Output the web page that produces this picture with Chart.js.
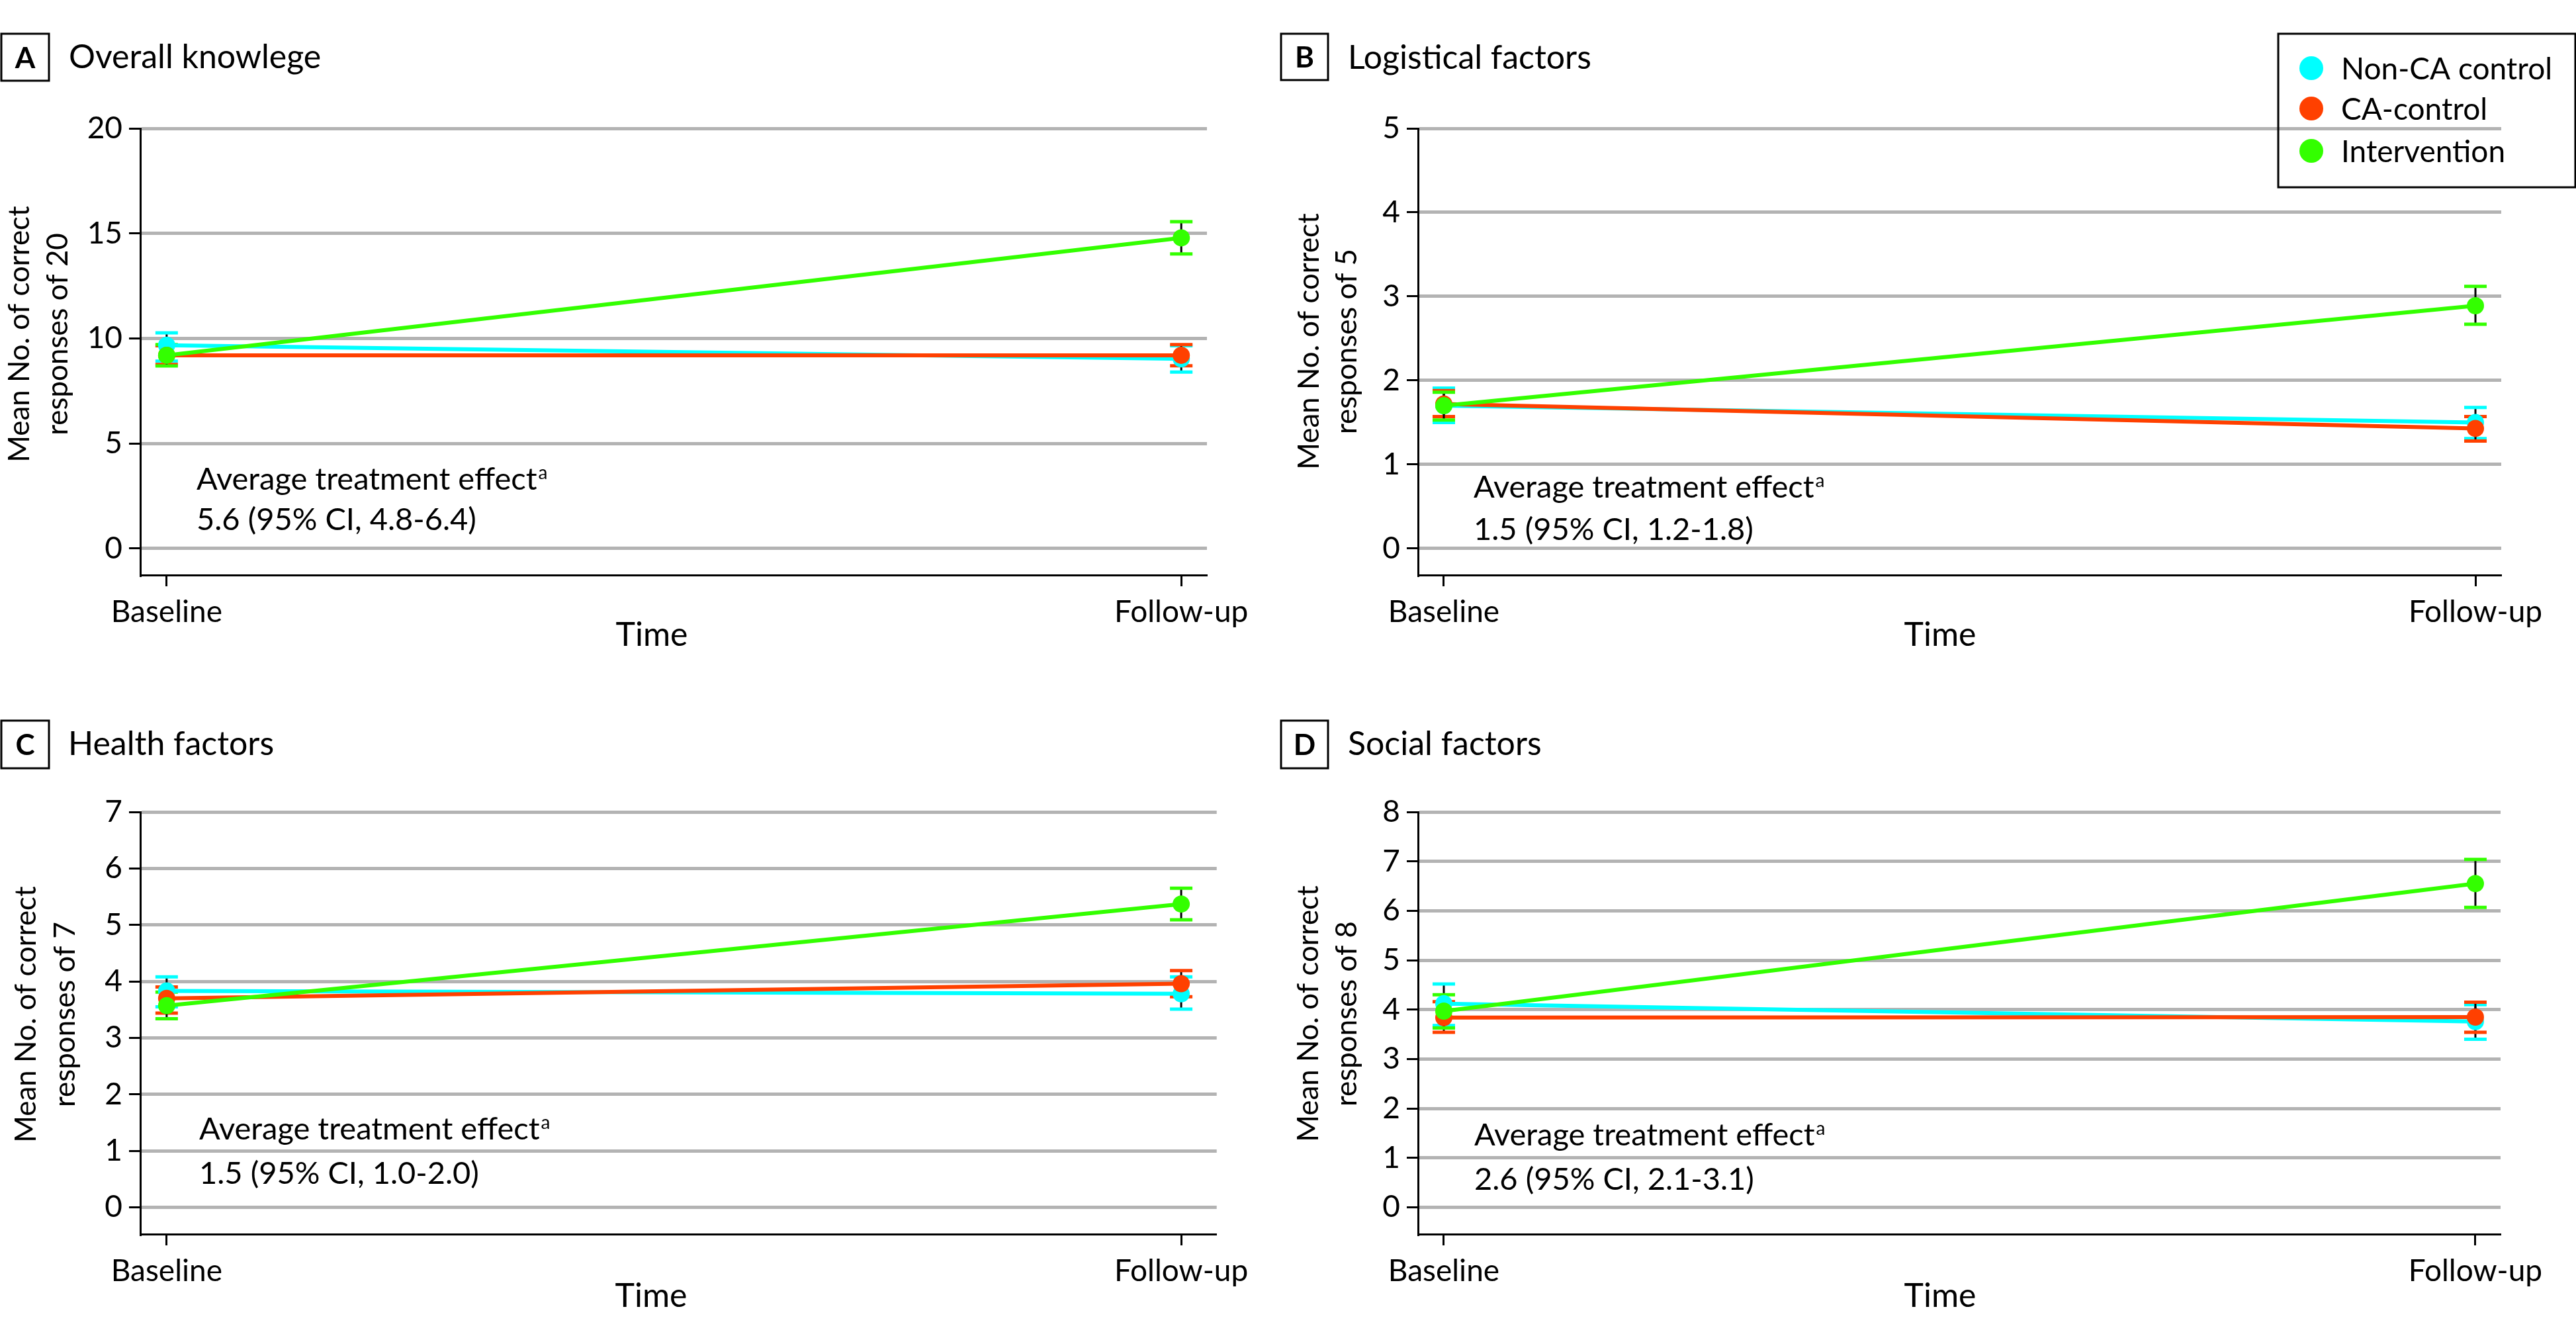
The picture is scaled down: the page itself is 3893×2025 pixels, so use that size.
<!DOCTYPE html>
<html>
<head>
<meta charset="utf-8">
<script src="https://cdn.jsdelivr.net/npm/chart.js@4.4.0/dist/chart.umd.min.js"></script>
<style>
  html, body { margin: 0; padding: 0; background: #fff; }
  #wrap { position: relative; width: 3893px; height: 2025px; background: #fff; overflow: hidden; }
  canvas { position: absolute; }
</style>
</head>
<body>
<div id="wrap">
  <canvas id="chartA" width="1900" height="1010" style="left:0;top:0"></canvas>
  <canvas id="chartB" width="1993" height="1010" style="left:1900px;top:0"></canvas>
  <canvas id="chartC" width="1900" height="1015" style="left:0;top:1010px"></canvas>
  <canvas id="chartD" width="1993" height="1015" style="left:1900px;top:1010px"></canvas>
</div>
<script>
const timeLabels = ['Baseline', 'Follow-up'];
const groupNames = ['Non-CA control', 'CA-control', 'Intervention'];
const groupColors = ['#00ffff', '#ff4000', '#33ff00'];

// A - overall knowledge (of 20)
const overallNonCa = [9.68, 9.03];
const overallNonCaCi = [[8.92, 10.27], [8.40, 9.65]];
const overallCa = [9.20, 9.20];
const overallCaCi = [[8.76, 9.65], [8.70, 9.71]];
const overallInt = [9.20, 14.79];
const overallIntCi = [[8.69, 9.71], [14.02, 15.56]];
const overallTicks = [0, 5, 10, 15, 20];

// B - logistical factors (of 5)
const logisticNonCa = [1.70, 1.50];
const logisticNonCaCi = [[1.50, 1.91], [1.31, 1.68]];
const logisticCa = [1.72, 1.43];
const logisticCaCi = [[1.57, 1.88], [1.28, 1.57]];
const logisticInt = [1.70, 2.89];
const logisticIntCi = [[1.53, 1.86], [2.67, 3.12]];
const logisticTicks = [0, 1, 2, 3, 4, 5];

// C - health factors (of 7)
const healthNonCa = [3.83, 3.78];
const healthNonCaCi = [[3.55, 4.08], [3.51, 4.08]];
const healthCa = [3.70, 3.96];
const healthCaCi = [[3.44, 3.90], [3.73, 4.19]];
const healthInt = [3.57, 5.37];
const healthIntCi = [[3.34, 3.81], [5.09, 5.65]];
const healthTicks = [0, 1, 2, 3, 4, 5, 6, 7];

// D - social factors (of 8)
const socialNonCa = [4.12, 3.76];
const socialNonCaCi = [[3.68, 4.52], [3.40, 4.10]];
const socialCa = [3.84, 3.85];
const socialCaCi = [[3.54, 4.16], [3.54, 4.15]];
const socialInt = [3.97, 6.55];
const socialIntCi = [[3.63, 4.30], [6.07, 7.04]];
const socialTicks = [0, 1, 2, 3, 4, 5, 6, 7, 8];

const effectTexts = ['5.6 (95% CI, 4.8-6.4)', '1.5 (95% CI, 1.2-1.8)', '1.5 (95% CI, 1.0-2.0)', '2.6 (95% CI, 2.1-3.1)'];

const FONT = 'Lato, "Open Sans", sans-serif';
Chart.defaults.color = '#000';
Chart.defaults.font.family = FONT;

// whisker + caps, drawn under lines and points
const errorBarPlugin = {
    id: 'errorBars',
    beforeDatasetsDraw(chart) {
        const ctx = chart.ctx;
        const xs = chart.scales.x;
        const ys = chart.scales.y;
        ctx.save();
        chart.data.datasets.forEach(ds => {
            ds.ci.forEach((c, i) => {
                const x = xs.getPixelForValue(i);
                const lo = ys.getPixelForValue(c[0]);
                const hi = ys.getPixelForValue(c[1]);
                ctx.strokeStyle = '#000';
                ctx.lineWidth = 3;
                ctx.beginPath();
                ctx.moveTo(x, lo);
                ctx.lineTo(x, hi);
                ctx.stroke();
                ctx.strokeStyle = ds.borderColor;
                ctx.lineWidth = 5;
                ctx.beginPath();
                ctx.moveTo(x - 17, lo); ctx.lineTo(x + 17, lo);
                ctx.moveTo(x - 17, hi); ctx.lineTo(x + 17, hi);
                ctx.stroke();
            });
        });
        ctx.restore();
    }
};

// panel tag, title, axis titles, effect note, legend
const decorPlugin = {
    id: 'decor',
    afterDraw(chart, args, o) {
        const ctx = chart.ctx;
        ctx.save();
        ctx.fillStyle = '#000';
        ctx.strokeStyle = '#000';
        ctx.textBaseline = 'alphabetic';

        const b = o.tagBox;
        ctx.lineWidth = 3;
        ctx.strokeRect(b[0], b[1], b[2], b[3]);
        ctx.font = 'bold 44px ' + FONT;
        ctx.textAlign = 'center';
        ctx.fillText(o.tag, b[0] + b[2] / 2, b[1] + b[3] / 2 + 16);

        ctx.textAlign = 'left';
        ctx.font = '50px ' + FONT;
        ctx.fillText(o.title, o.titleX, o.titleY);

        ctx.font = '47px ' + FONT;
        const head = 'Average treatment effect';
        ctx.fillText(head, o.noteX, o.noteY[0]);
        const w = ctx.measureText(head).width;
        ctx.fillText(o.note, o.noteX, o.noteY[1]);
        ctx.font = '28px ' + FONT;
        ctx.fillText('a', o.noteX + w + 2, o.noteY[0] - 16);

        ctx.textAlign = 'center';
        ctx.font = '50px ' + FONT;
        ctx.fillText('Time', o.xTitleX, o.xTitleY);

        // y title, sized so the first line is as long as in the figure
        ctx.font = '40px ' + FONT;
        const size = 40 * 388 / ctx.measureText(o.yTitle[0]).width;
        ctx.font = size.toFixed(1) + 'px ' + FONT;
        o.yTitle.forEach((line, i) => {
            ctx.save();
            ctx.translate(o.yTitleX[i], o.yTitleY);
            ctx.rotate(-Math.PI / 2);
            ctx.fillText(line, 0, 0);
            ctx.restore();
        });

        if (o.legend) {
            const L = o.legend;
            ctx.lineWidth = 3;
            ctx.strokeRect(L.box[0], L.box[1], L.box[2], L.box[3]);
            ctx.textAlign = 'left';
            ctx.font = '46px ' + FONT;
            groupNames.forEach((name, i) => {
                ctx.fillStyle = groupColors[i];
                ctx.beginPath();
                ctx.arc(L.dotX, L.rows[i], 18, 0, Math.PI * 2);
                ctx.fill();
                ctx.fillStyle = '#000';
                ctx.fillText(name, L.textX, L.rows[i] + 17);
            });
        }
        ctx.restore();
    }
};

function makePanel(id, means, cis, yTicks, g) {
    const datasets = means.map((m, k) => ({
        label: groupNames[k],
        data: m.map((v, i) => ({ x: i, y: v })),
        ci: cis[k],
        borderColor: groupColors[k],
        backgroundColor: groupColors[k],
        pointBackgroundColor: groupColors[k],
        borderWidth: 6,
        pointRadius: 13,
        pointBorderWidth: 0,
        order: 3 - k
    }));

    const ctx = document.getElementById(id).getContext('2d');
    return new Chart(ctx, {
        type: 'line',
        data: { datasets: datasets },
        options: {
            responsive: false,
            animation: false,
            layout: { padding: { left: 0, top: g.top, right: g.right, bottom: g.bottom } },
            plugins: {
                legend: { display: false },
                tooltip: { enabled: false },
                decor: g.decor
            },
            scales: {
                x: {
                    type: 'linear',
                    min: g.xMin,
                    max: g.xMax,
                    afterBuildTicks: axis => { axis.ticks = [{ value: 0 }, { value: 1 }]; },
                    afterFit: axis => { axis.height = 130; },
                    ticks: {
                        callback: v => timeLabels[v],
                        font: { size: 46 },
                        padding: 12,
                        maxRotation: 0,
                        autoSkip: false
                    },
                    grid: {
                        drawOnChartArea: false,
                        drawTicks: true,
                        tickLength: 17,
                        tickColor: '#000',
                        tickWidth: 3
                    },
                    border: { display: true, color: '#000', width: 3 }
                },
                y: {
                    type: 'linear',
                    min: g.yMin,
                    max: g.yMax,
                    afterBuildTicks: axis => { axis.ticks = yTicks.map(v => ({ value: v })); },
                    afterFit: axis => { axis.width = g.yw; },
                    ticks: { font: { size: 46 }, padding: 10 },
                    grid: {
                        color: '#b3b3b3',
                        lineWidth: 5,
                        tickLength: 17,
                        tickColor: '#000',
                        tickWidth: 3
                    },
                    border: { display: true, color: '#000', width: 3 }
                }
            }
        },
        plugins: [errorBarPlugin, decorPlugin]
    });
}

makePanel('chartA',
    [overallNonCa, overallCa, overallInt],
    [overallNonCaCi, overallCaCi, overallIntCi],
    overallTicks,
    {
        yw: 212, top: 194, right: 70, bottom: 11,
        xMin: -0.026, xMax: 1.0253, yMin: -1.26, yMax: 20,
        decor: {
            tag: 'A', tagBox: [2, 51, 72, 71],
            title: 'Overall knowlege', titleX: 104, titleY: 103,
            note: effectTexts[0], noteX: 297, noteY: [740, 801],
            xTitleX: 985, xTitleY: 976,
            yTitle: ['Mean No. of correct', 'responses of 20'], yTitleX: [44, 102], yTitleY: 505
        }
    });

makePanel('chartB',
    [logisticNonCa, logisticCa, logisticInt],
    [logisticNonCaCi, logisticCaCi, logisticIntCi],
    logisticTicks,
    {
        yw: 243, top: 194, right: 113, bottom: 11,
        xMin: -0.025, xMax: 1.025, yMin: -0.315, yMax: 5,
        decor: {
            tag: 'B', tagBox: [36, 51, 71, 70],
            title: 'Logistical factors', titleX: 137, titleY: 104,
            note: effectTexts[1], noteX: 327, noteY: [752, 816],
            xTitleX: 1032, xTitleY: 976,
            yTitle: ['Mean No. of correct', 'responses of 5'], yTitleX: [93, 150], yTitleY: 516,
            legend: { box: [1543, 51, 449, 232], dotX: 1593, textX: 1638, rows: [103, 164, 228] }
        }
    });

makePanel('chartC',
    [healthNonCa, healthCa, healthInt],
    [healthNonCaCi, healthCaCi, healthIntCi],
    healthTicks,
    {
        yw: 212, top: 217, right: 55, bottom: 30,
        xMin: -0.026, xMax: 1.035, yMin: -0.474, yMax: 7,
        decor: {
            tag: 'C', tagBox: [2, 79, 72, 72],
            title: 'Health factors', titleX: 103, titleY: 131,
            note: effectTexts[2], noteX: 301, noteY: [712, 779],
            xTitleX: 984, xTitleY: 965,
            yTitle: ['Mean No. of correct', 'responses of 7'], yTitleX: [54, 113], yTitleY: 523
        }
    });

makePanel('chartD',
    [socialNonCa, socialCa, socialInt],
    [socialNonCaCi, socialCaCi, socialIntCi],
    socialTicks,
    {
        yw: 243, top: 217, right: 114, bottom: 30,
        xMin: -0.025, xMax: 1.0244, yMin: -0.542, yMax: 8,
        decor: {
            tag: 'D', tagBox: [36, 79, 71, 72],
            title: 'Social factors', titleX: 137, titleY: 131,
            note: effectTexts[3], noteX: 328, noteY: [721, 788],
            xTitleX: 1032, xTitleY: 965,
            yTitle: ['Mean No. of correct', 'responses of 8'], yTitleX: [92, 150], yTitleY: 522
        }
    });
</script>
</body>
</html>
